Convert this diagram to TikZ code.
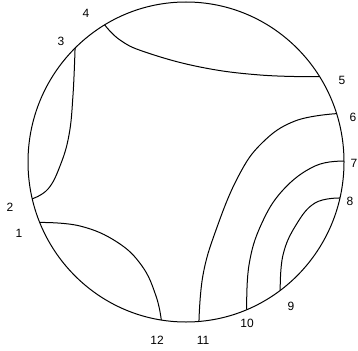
\documentclass[tikz,border=0pt]{standalone}
\usepackage{fontspec}
\setmainfont{Liberation Sans}
\begin{document}
\begin{tikzpicture}[x=1pt,y=-1pt,
  geo/.style={line width=1pt,black},
  lab/.style={font=\fontsize{12}{14}\selectfont,inner sep=0pt}]
\useasboundingbox (0,0) rectangle (358,350);
% boundary points
\foreach \n/\a in {1/202.2,2/193.3,3/134.6,4/121.0,5/32.2,6/17.6,7/0.3,8/-13.0,9/-53.4,10/-67.4,11/-85.3,12/-99.0}
  \coordinate (p\n) at ({186+158*cos(\a)},{162-160*sin(\a)});
\draw[geo] (186,162) ellipse [x radius=158, y radius=160];
% inner curves
\draw[geo] plot[smooth,tension=0.7] coordinates {(p3) (73,95) (69,135) (60,166) (48,189) (p2)};
\draw[geo] plot[smooth,tension=0.7] coordinates {(p4) (120,40) (145,52) (200,67) (260,75) (p5)};
\draw[geo] plot[smooth,tension=0.7] coordinates {(p6) (295,121) (262,143) (238,177) (216,230) (203,275) (p11)};
\draw[geo] plot[smooth,tension=0.7] coordinates {(p7) (315,166) (283,190) (261,225) (249,265) (p10)};
\draw[geo] plot[smooth,tension=0.7] coordinates {(p8) (315,203) (296,225) (283,255) (p9)};
\draw[geo] plot[smooth,tension=0.7] coordinates {(p1) (80,226) (117,242) (142,266) (156,296) (p12)};
% labels
\node[lab] (l1) at (19,233) {1};
\node[lab] (l2) at (10,207) {2};
\node[lab] (l3) at (61,41) {3};
\node[lab] (l4) at (86,13) {4};
\node[lab] (l5) at (342,80) {5};
\node[lab] (l6) at (353,117) {6};
\node[lab] (l7) at (354,163) {7};
\node[lab] (l8) at (350,201) {8};
\node[lab] (l9) at (291,306) {9};
\node[lab] (l10) at (247,323) {10};
\node[lab] (l11) at (203,340) {11};
\node[lab] (l12) at (157,340) {12};
\end{tikzpicture}
\end{document}
